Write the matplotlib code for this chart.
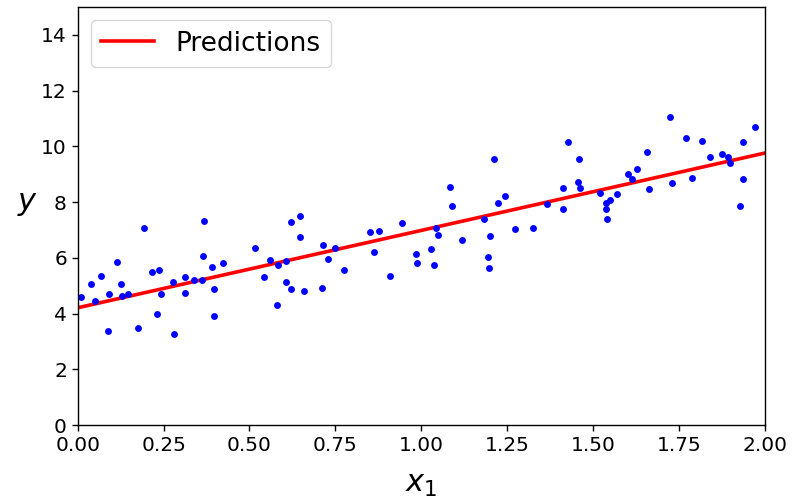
import numpy as np
import matplotlib
matplotlib.use('Agg')
import matplotlib.pyplot as plt

# -------------------
#    Data
# -------------------
X = [0.009, 0.039, 0.049, 0.067, 0.089, 0.091, 0.114, 0.125, 0.129, 0.146,
     0.175, 0.193, 0.215, 0.231, 0.238, 0.242, 0.277, 0.279, 0.311, 0.311,
     0.339, 0.362, 0.366, 0.369, 0.391, 0.397, 0.396, 0.422,
     0.515, 0.541, 0.560, 0.580, 0.583, 0.606, 0.606, 0.620, 0.621, 0.648,
     0.648, 0.660, 0.712, 0.715, 0.730, 0.748, 0.775, 0.852, 0.863, 0.878,
     0.910, 0.943, 0.986, 0.987,
     1.027, 1.038, 1.044, 1.049, 1.084, 1.091, 1.120, 1.183, 1.194, 1.196,
     1.200, 1.213, 1.223, 1.244, 1.273, 1.324, 1.366, 1.412, 1.414, 1.426,
     1.458, 1.457, 1.462,
     1.520, 1.539, 1.549, 1.539, 1.542, 1.569, 1.602, 1.615, 1.629, 1.656,
     1.663, 1.723, 1.731, 1.772, 1.788, 1.816, 1.841, 1.876, 1.894, 1.900,
     1.929, 1.937, 1.937, 1.971]
y = [4.58, 5.05, 4.45, 5.36, 3.37, 4.69, 5.84, 5.05, 4.64, 4.70,
     3.49, 7.06, 5.48, 3.98, 5.55, 4.70, 5.12, 3.26, 5.31, 4.73,
     5.22, 5.19, 6.07, 7.31, 5.66, 4.87, 3.90, 5.80,
     6.34, 5.32, 5.92, 4.30, 5.75, 5.90, 5.13, 4.89, 7.28, 7.51,
     6.74, 4.81, 4.92, 6.45, 5.97, 6.34, 5.56, 6.92, 6.20, 6.95,
     5.34, 7.26, 6.15, 5.81,
     6.31, 5.73, 7.07, 6.83, 8.55, 7.87, 6.63, 7.40, 6.04, 5.62,
     6.79, 9.54, 7.98, 8.22, 7.02, 7.08, 7.93, 8.50, 7.75, 10.17,
     9.54, 8.73, 8.50,
     8.33, 7.98, 8.09, 7.74, 7.40, 8.30, 9.01, 8.82, 9.19, 9.79,
     8.47, 11.04, 8.70, 10.29, 8.88, 10.20, 9.61, 9.74, 9.63, 9.40,
     7.87, 10.17, 8.84, 10.71]

X_new = [0.0, 2.0]
y_predict = [4.21, 9.76]

# -------------------
#   Plotting area
# -------------------
fig = plt.figure(figsize=(7.99, 4.99), dpi=100)
ax = fig.add_axes([0.0973, 0.148, 0.8598, 0.838])

ax.plot(X_new, y_predict, 'r-', linewidth=2.6, label='Predictions')
ax.plot(X, y, 'b.', markersize=7.5, markeredgewidth=1.2)

ax.set_xlabel('$x_1$', fontsize=22, labelpad=11)
ax.set_ylabel('$y$', rotation=0, fontsize=22, ha='center', va='center')
ax.yaxis.set_label_coords(-0.073, 0.53)
ax.legend(loc='upper left', fontsize=19)
ax.axis([0, 2, 0, 15])
ax.tick_params(labelsize=14.5, length=4.3, width=1.0)
for s in ax.spines.values():
    s.set_linewidth(1.0)

plt.savefig('out.png', dpi=100)
plt.close()
